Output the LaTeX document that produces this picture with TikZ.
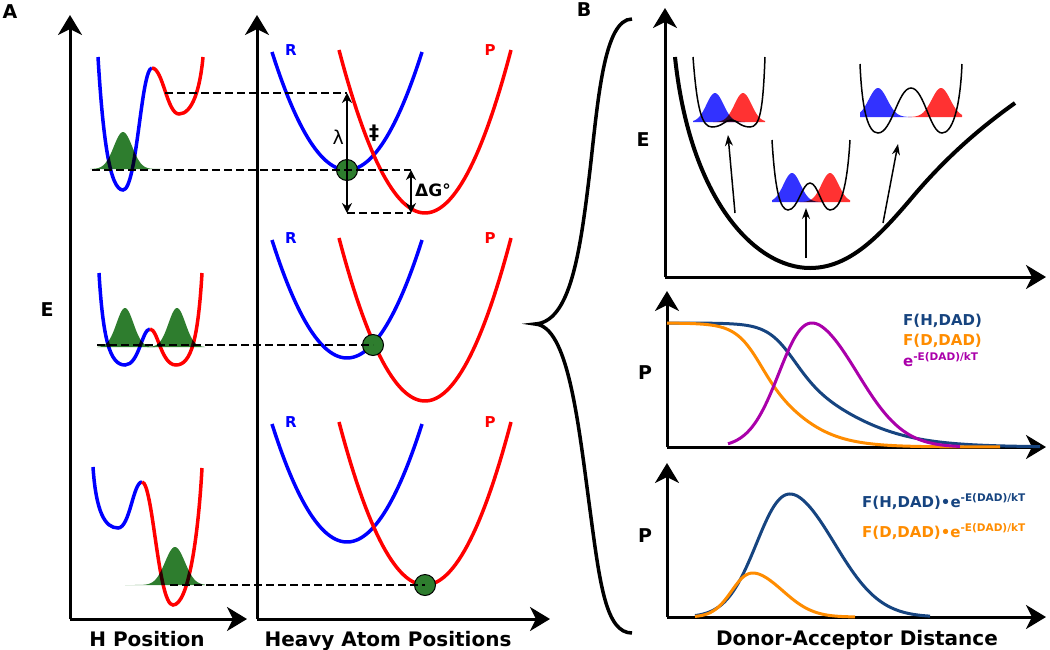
\documentclass[tikz,border=0pt]{standalone}
\usepackage{fontspec}
\setmainfont{DejaVu Sans}
\usetikzlibrary{arrows.meta,calc}
\definecolor{hblue}{RGB}{0,0,255}
\definecolor{hred}{RGB}{255,0,0}
\definecolor{wgreen}{RGB}{46,125,46}
\definecolor{gblue}{RGB}{50,50,255}
\definecolor{gred}{RGB}{255,50,50}
\definecolor{fnavy}{RGB}{22,68,128}
\definecolor{forange}{RGB}{255,140,0}
\definecolor{fmag}{RGB}{170,0,170}
\tikzset{
    axis/.style     = {line width=3pt,
                      -{Stealth[length=20pt,width=24pt,inset=6pt]}},
    pesR/.style     = {draw=hblue,
                      line width=3.5pt},
    pesP/.style     = {draw=hred,
                      line width=3.5pt},
    well/.style     = {draw=black,
                      line width=1.5pt},
    bigpes/.style   = {draw=black,
                      line width=4pt},
    fcurve/.style   = {line width=3pt},
    guide/.style    = {dash pattern=on 8pt off 4pt,
                      line width=2pt},
    dbl/.style      = {line width=2pt,
                      {Stealth[length=10pt,width=10pt]}-{Stealth[length=10pt,width=10pt]}},
    thinarrow/.style= {line width=1.5pt,
                      -{Stealth[length=11pt,width=8pt]}},
    state/.style    = {circle,
                      fill=wgreen,
                      draw=black,
                      line width=1pt,
                      minimum size=21pt,
                      inner sep=0pt},
    tag/.style      = {font=\fontsize{19}{19}\selectfont\bfseries,
                      inner sep=0pt},
    curvetag/.style = {font=\fontsize{15}{15}\selectfont\bfseries,
                      inner sep=0pt},
    axlabel/.style  = {font=\fontsize{20}{20}\selectfont\bfseries,
                      inner sep=0pt,
                      anchor=base},
    flabel/.style   = {font=\fontsize{15}{15}\selectfont\bfseries,
                      inner sep=0pt,
                      anchor=base west}}

\begin{document}
\begin{tikzpicture}[x=1pt,y=-1pt]
    \useasboundingbox (0,0) rectangle (1050,649);

    % panel A: axes
    \coordinate (oH) at (70,619);
    \coordinate (oX) at (257,619);
    \draw[axis] (oH) -- (70,15);
    \draw[axis] (oH) -- (247,619);
    \draw[axis] (oX) -- (257,15);
    \draw[axis] (oX) -- (550,619);

    \node[tag] (labA) at (10,12) {A};
    \node[tag] (EA) at (47,310) {E};
    \node[axlabel] (xH) at (147,646) {H Position};
    \node[axlabel] (xX) at (388,646) {Heavy Atom Positions};

    % marcus parabolas
    \foreach \dy [count=\i] in {0,188,372} {
        \draw[pesR] plot[domain=272:422,samples=60] (\x,{170+\dy-118*((\x-347)/75)^2});
        \draw[pesP] plot[domain=339:511,samples=60] (\x,{213+\dy-163*((\x-425)/86)^2});
        \node[curvetag,text=hblue] (R\i) at (291,50+\dy) {R};
        \node[curvetag,text=hred] (P\i) at (490,50+\dy) {P};
    }

    % proton wells
    \draw[pesR] (98,57) .. controls (103,140) and (110,190) .. (123,190) .. controls (137,190) and (141,68) .. (152,68);
    \draw[pesP] (152,68) .. controls (163,68) and (167,114) .. (179,114) .. controls (192,114) and (200,90) .. (203,57);
    \draw[pesR] (99,273) .. controls (103,340) and (110,365) .. (125,365) .. controls (139,365) and (142,329) .. (150,329);
    \draw[pesP] (150,329) .. controls (158,329) and (161,365) .. (176,365) .. controls (191,365) and (198,340) .. (202,273);
    \draw[pesR] (93,467) .. controls (96,512) and (105,528) .. (118,528) .. controls (130,528) and (133,482) .. (142,482);
    \draw[pesP] (142,482) .. controls (153,482) and (158,605) .. (173,605) .. controls (188,605) and (198,540) .. (202,468);

    \begin{scope}[blend mode=multiply]
        \fill[wgreen] (90,169) -- plot[domain=90:165,samples=60] (\x,{169-37*exp(-((\x-123)/13)^2)}) -- (165,169) -- cycle;
        \fill[wgreen] (97,347) -- plot[domain=97:155,samples=50] (\x,{347-39*exp(-((\x-125)/12)^2)}) -- (155,347) -- cycle;
        \fill[wgreen] (147,347) -- plot[domain=147:205,samples=50] (\x,{347-39*exp(-((\x-177)/12)^2)}) -- (205,347) -- cycle;
        \fill[wgreen] (125,585) -- plot[domain=125:205,samples=60] (\x,{585-38*exp(-((\x-175)/14)^2)}) -- (205,585) -- cycle;
    \end{scope}

    \node[state] (ts1) at (347,170) {};
    \node[state] (ts2) at (373,345) {};
    \node[state] (ts3) at (425,585) {};

    \coordinate (lamtop) at (347,93);
    \coordinate (lambot) at (347,213);
    \coordinate (dgtop) at (411,170);
    \coordinate (dgbot) at (411,213);
    \draw[guide] (165,93) -- (lamtop);
    \draw[guide] (92,170) -- (dgtop);
    \draw[guide] (lambot) -- (dgbot);
    \draw[guide] (97,345) -- (ts2.center);
    \draw[guide] (170,585) -- (ts3.center);
    \draw[dbl] (lamtop) -- (lambot);
    \draw[dbl] (dgtop) -- (dgbot);
    \node[font=\fontsize{19}{19}\selectfont,inner sep=0pt,anchor=east] (lam) at (344,137) {λ};
    \node[font=\fontsize{20}{20}\selectfont\bfseries,inner sep=0pt] (dag) at (374,133) {‡};
    \node[font=\fontsize{17}{17}\selectfont\bfseries,inner sep=0pt,anchor=west] (dG) at (415,190) {ΔG°};

    % brace
    \draw[line width=3.5pt] (632,19) .. controls (604,19) and (598,100) .. (590,170) .. controls (580,255) and (570,322) .. (535,324)
        .. controls (568,326) and (578,420) .. (590,510) .. controls (600,585) and (606,633) .. (632,633);

    % panel B: energy vs DAD
    \node[tag] (labB) at (584,10) {B};
    \coordinate (oE) at (665,277);
    \draw[axis] (oE) -- (665,8);
    \draw[axis] (oE) -- (1046,277);
    \node[tag] (EB) at (643,140) {E};
    \draw[bigpes] (675,57) .. controls (690,200) and (755,268) .. (810,268) .. controls (850,268) and (880,235) .. (910,200) .. controls (945,158) and (980,128) .. (1015,103);

    \begin{scope}[blend mode=multiply]
        \fill[gblue] (693,122) -- plot[domain=693:745,samples=40] (\x,{122-29*exp(-((\x-715)/12)^2)}) -- (745,122) -- cycle;
        \fill[gred] (713,122) -- plot[domain=713:765,samples=40] (\x,{122-29*exp(-((\x-743)/12)^2)}) -- (765,122) -- cycle;
        \fill[gblue] (772,202) -- plot[domain=772:824,samples=40] (\x,{202-29*exp(-((\x-792)/12)^2)}) -- (824,202) -- cycle;
        \fill[gred] (800,202) -- plot[domain=800:850,samples=40] (\x,{202-29*exp(-((\x-830)/12)^2)}) -- (850,202) -- cycle;
        \fill[gblue] (860,117) -- plot[domain=860:912,samples=40] (\x,{117-29*exp(-((\x-878)/13)^2)}) -- (912,117) -- cycle;
        \fill[gred] (908,117) -- plot[domain=908:962,samples=40] (\x,{117-29*exp(-((\x-941)/13)^2)}) -- (962,117) -- cycle;
    \end{scope}
    \draw[well] (693,57) .. controls (697,110) and (702,127) .. (712,127) .. controls (722,127) and (725,120) .. (731,120)
        .. controls (737,120) and (740,127) .. (750,127) .. controls (760,127) and (763,110) .. (765,57);
    \draw[well] (772,140) .. controls (775,190) and (780,210) .. (788,210) .. controls (798,210) and (802,183) .. (810,183)
        .. controls (818,183) and (822,210) .. (830,210) .. controls (840,210) and (847,190) .. (850,140);
    \draw[well] (860,64) .. controls (862,110) and (868,133) .. (878,133) .. controls (892,133) and (898,88) .. (911,88)
        .. controls (924,88) and (930,133) .. (942,133) .. controls (952,133) and (960,110) .. (962,64);
    \draw[thinarrow] (735,213) -- (728,135);
    \draw[thinarrow] (806,258) -- (806,208);
    \draw[thinarrow] (883,223) -- (898,144);

    % panel B: probabilities
    \coordinate (oP) at (667,447);
    \draw[axis] (oP) -- (667,291);
    \draw[axis] (oP) -- (1046,447);
    \node[tag] (P1B) at (645,373) {P};
    \draw[fcurve,fnavy] plot[domain=667:1040,samples=150] (\x,{447-124/(1+exp((\x-813)/(28+12*tanh((\x-813)/40))))});
    \draw[fcurve,forange] plot[domain=667:1000,samples=150] (\x,{447-124/(1+exp((\x-773)/(21+6*tanh((\x-773)/30))))});
    \draw[fcurve,fmag] plot[domain=728:960,samples=120] (\x,{447-124*exp(-((\x-812)/(54+10*tanh((\x-812)/30)))^2)});
    \node[flabel,text=fnavy] (lFH) at (903,325) {F(H,DAD)};
    \node[flabel,text=forange] (lFD) at (903,345) {F(D,DAD)};
    \node[flabel,text=fmag] (lEx) at (903,366) {e\textsuperscript{-E(DAD)/kT}};

    \coordinate (oQ) at (667,617);
    \draw[axis] (oQ) -- (667,463);
    \draw[axis] (oQ) -- (1046,617);
    \node[tag] (P2B) at (645,536) {P};
    \draw[fcurve,fnavy] plot[domain=695:930,samples=120] (\x,{617-123*exp(-((\x-790)/(54+9*tanh((\x-790)/30)))^2)});
    \draw[fcurve,forange] plot[domain=695:855,samples=100] (\x,{617-44*exp(-((\x-753)/(35+7*tanh((\x-753)/20)))^2)});
    \node[flabel,text=fnavy] (lPH) at (862,507) {F(H,DAD)•e\textsuperscript{-E(DAD)/kT}};
    \node[flabel,text=forange] (lPD) at (862,537) {F(D,DAD)•e\textsuperscript{-E(DAD)/kT}};
    \node[axlabel] (xD) at (857,645) {Donor-Acceptor Distance};
\end{tikzpicture}
\end{document}
